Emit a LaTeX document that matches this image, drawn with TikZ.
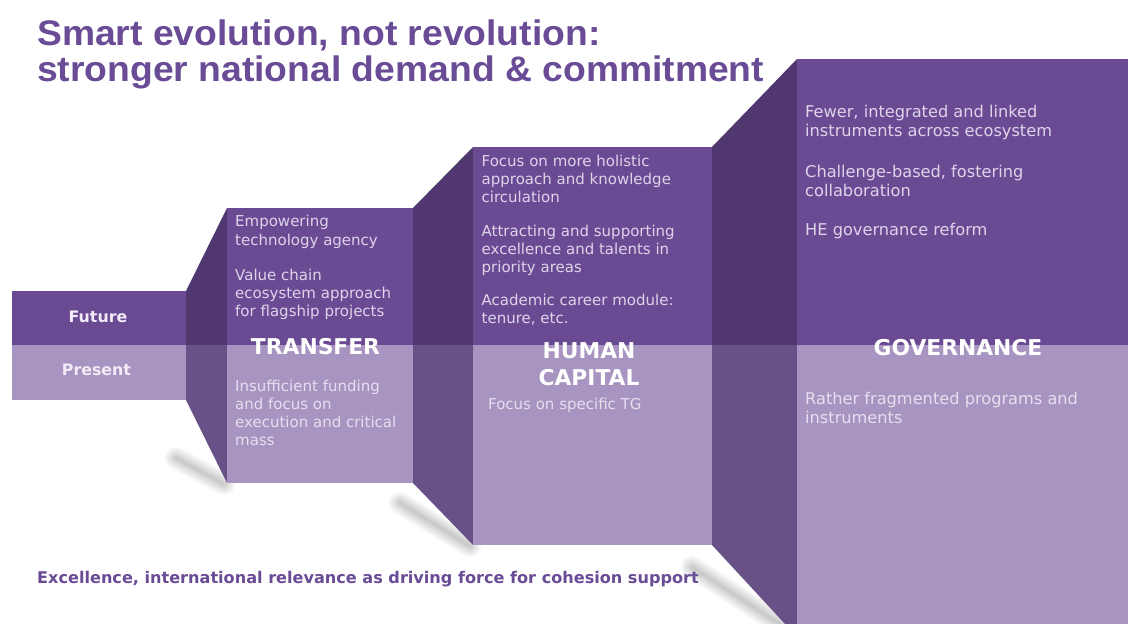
\documentclass[tikz,border=0pt]{standalone}
\usepackage{fontspec}
\setmainfont{DejaVu Sans}
\newfontfamily\titlefont{Liberation Sans}[FakeStretch=1.05]
\definecolor{futfront}{HTML}{6B4A94}
\definecolor{futside}{HTML}{50376F}
\definecolor{prefront}{HTML}{A794C0}
\definecolor{preside}{HTML}{685187}
\definecolor{titlecol}{HTML}{6A4B96}
\definecolor{txtlight}{HTML}{DDD4EA}
\definecolor{txtpale}{HTML}{F1ECF7}
\tikzset{
  futf/.style={fill=futfront},
  futs/.style={fill=futside},
  pref/.style={fill=prefront},
  pres/.style={fill=preside},
  shad/.style={draw=black, line cap=round, opacity=0.035},
  body/.style={inner sep=0pt, anchor=base west, align=left, text=txtlight,
    font=\fontsize{15}{18.3}\selectfont},
  bodyg/.style={body, font=\fontsize{16.2}{19.4}\selectfont},
  lbl/.style={inner sep=0pt, anchor=base, align=center, text=white,
    font=\fontsize{21.8}{26.7}\selectfont\bfseries},
  rowlbl/.style={inner sep=0pt, anchor=base, text=txtpale,
    font=\fontsize{15.8}{19}\selectfont\bfseries},
}
\begin{document}
\begin{tikzpicture}[x=1pt,y=-1pt]
\useasboundingbox[fill=white] (0,0) rectangle (1128,624);
% shadows
\foreach \w in {22,18,14,10,6,3}{
  \draw[shad, line width=\w pt] (176,458) -- (224,484);
  \draw[shad, line width=\w pt] (400,503) -- (470,546);
  \draw[shad, line width=\w pt] (692,567) -- (792,632);
}
% left band
\fill[futf] (12,291) rectangle (186,345);
\fill[pref] (12,345) rectangle (186,400);
% transfer
\fill[futs] (186,291) -- (227,208) -- (227,345) -- (186,345) -- cycle;
\fill[pres] (186,345) -- (227,345) -- (227,483) -- (186,400) -- cycle;
\fill[futf] (227,208) rectangle (413,345);
\fill[pref] (227,345) rectangle (413,483);
% human capital
\fill[futs] (413,208) -- (473,147) -- (473,345) -- (413,345) -- cycle;
\fill[pres] (413,345) -- (473,345) -- (473,545) -- (413,483) -- cycle;
\fill[futf] (473,147) rectangle (712,345);
\fill[pref] (473,345) rectangle (712,545);
% governance
\fill[futs] (712,147) -- (797,59) -- (797,345) -- (712,345) -- cycle;
\fill[pres] (712,345) -- (797,345) -- (797,624) -- (785,624) -- (712,545) -- cycle;
\fill[futf] (797,59) rectangle (1128,345);
\fill[pref] (797,345) rectangle (1128,624);

% title (anchor on last baseline)
\node[inner sep=0pt, anchor=base west, align=left, text=titlecol,
  font=\titlefont\bfseries\fontsize{35.5}{36.7}\selectfont] (title) at (37,81.7)
  {Smart evolution, not revolution:\\stronger national demand \& commitment};

% row labels
\node[rowlbl] (future) at (98,322.5) {Future};
\node[rowlbl] (present) at (96.5,375) {Present};

% transfer texts
\node[body] (t1) at (235,245) {Empowering\\technology agency};
\node[body] (t2) at (235,316.6) {Value chain\\ecosystem approach\\for flagship projects};
\node[lbl] (tl) at (315.5,354.3) {TRANSFER};
\node[body, text=txtpale!85!prefront] (t3) at (235,445.9) {Insufficient funding\\and focus on\\execution and critical\\mass};

% human capital texts
\node[body] (h1) at (481.5,202.6) {Focus on more holistic\\approach and knowledge\\circulation};
\node[body] (h2) at (481.5,272.6) {Attracting and supporting\\excellence and talents in\\priority areas};
\node[body] (h3) at (481.5,323.3) {Academic career module:\\tenure, etc.};
\node[lbl] (hl) at (589,385) {HUMAN\\CAPITAL};
\node[body, text=txtpale!85!prefront] (h4) at (488,409.3) {Focus on specific TG};

% governance texts
\node[bodyg] (g1) at (805,136.7) {Fewer, integrated and linked\\instruments across ecosystem};
\node[bodyg] (g2) at (805,196.7) {Challenge-based, fostering\\collaboration};
\node[bodyg] (g3) at (805,235.7) {HE governance reform};
\node[lbl] (gl) at (958,355) {GOVERNANCE};
\node[bodyg, text=txtpale!85!prefront] (g4) at (805,423.4) {Rather fragmented programs and\\instruments};

% bottom line
\node[inner sep=0pt, anchor=base west, text=titlecol,
  font=\fontsize{16.1}{19}\selectfont\bfseries] (foot) at (37,583.5)
  {Excellence, international relevance as driving force for cohesion support};
\end{tikzpicture}
\end{document}
